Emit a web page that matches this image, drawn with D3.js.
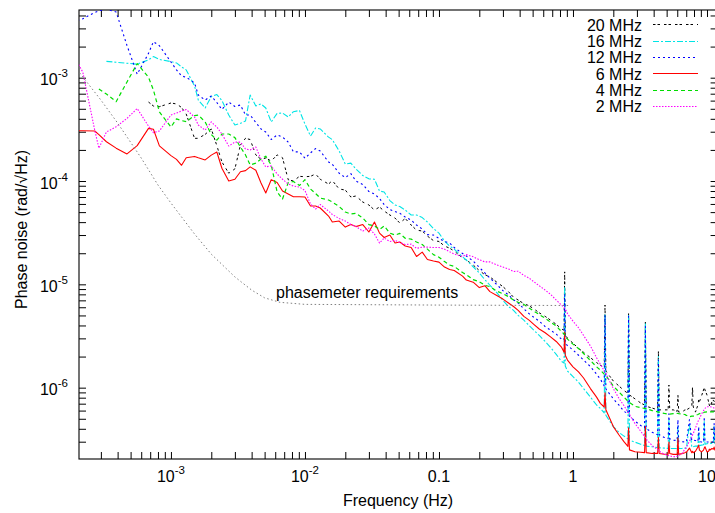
<!DOCTYPE html>
<html>
<head>
<meta charset="utf-8">
<script src="https://cdn.jsdelivr.net/npm/d3@7"></script>
<style>
  html, body { margin: 0; padding: 0; background: #fff; }
  svg { display: block; font-family: "Liberation Sans", Arial, Helvetica, sans-serif; }
</style>
</head>
<body>
<svg id="chart" width="715" height="513"></svg>
<script>
// Frequency grid (Hz) shared by all measured spectra
const freq = [
  2.0e-4, 2.2e-4, 2.7e-4, 2.9e-4, 3.3e-4, 3.9e-4, 4.7e-4, 5.6e-4, 6.8e-4, 7.4e-4, 8.2e-4,
  1.0e-3, 1.1e-3, 1.2e-3, 1.3e-3, 1.5e-3, 1.6e-3, 1.8e-3, 2.0e-3, 2.2e-3, 2.4e-3, 2.7e-3, 3.0e-3,
  3.3e-3, 3.6e-3, 3.9e-3, 4.3e-3, 4.7e-3, 5.1e-3, 5.6e-3, 6.2e-3, 6.8e-3, 7.5e-3, 8.2e-3, 9.1e-3,
  0.010, 0.011, 0.012, 0.013, 0.015, 0.016, 0.018, 0.020, 0.022, 0.024, 0.027, 0.030,
  0.033, 0.036, 0.039, 0.043, 0.047, 0.051, 0.056, 0.062, 0.068, 0.075, 0.082, 0.091,
  0.10, 0.11, 0.12, 0.13, 0.15, 0.16, 0.18, 0.20, 0.22, 0.24, 0.27, 0.30,
  0.33, 0.36, 0.39, 0.43, 0.47, 0.51, 0.56, 0.62, 0.68, 0.75, 0.82, 0.858, 0.867, 0.876, 0.91,
  1.0, 1.1, 1.2, 1.35, 1.5, 1.6, 1.71, 1.734, 1.76, 2.0, 2.2, 2.4, 2.57, 2.60, 2.64, 2.9, 3.2,
  3.42, 3.47, 3.52, 3.9, 4.28, 4.34, 4.40, 4.8, 5.13, 5.20, 5.27, 5.6, 5.99, 6.07, 6.15, 6.5,
  6.85, 6.94, 7.03, 7.4, 7.70, 7.80, 7.90, 8.2, 8.56, 8.67, 8.78, 9.1, 9.42, 9.54, 9.66, 10.0,
  10.27, 10.4, 10.53, 10.9, 11.15, 11.3, 11.45, 12.0
];

// Phase noise (rad/sqrt(Hz)) per beat-note frequency
const mhz20 = [
  null, null, null, null, null, null, null, null, 5.81e-4, 5.32e-4, 5.24e-4,
  5.69e-4, 5.57e-4, 5.15e-4, 4.45e-4, 2.59e-4, 2.59e-4, 2.83e-4, 3.19e-4, 2.20e-4, 1.53e-4, 1.19e-4, 1.31e-4,
  2.23e-4, 2.59e-4, 2.52e-4, 1.79e-4, 1.62e-4, 1.67e-4, 1.56e-4, 1.79e-4, 1.68e-4, 1.03e-4, 1.0e-4, 1.11e-4,
  1.10e-4, 1.11e-4, 1.17e-4, 1.04e-4, 9.35e-5, 1.01e-4, 8.37e-5, 8.18e-5, 7.0e-5, 7.16e-5, 6.26e-5, 5.86e-5,
  5.24e-5, 5.6e-5, 5.12e-5, 4.69e-5, 4.38e-5, 3.92e-5, 4.34e-5, 3.75e-5, 3.35e-5, 3.28e-5, 2.93e-5, 2.65e-5,
  2.6e-5, 2.35e-5, 2.24e-5, 2.1e-5, 1.8e-5, 1.72e-5, 1.54e-5, 1.36e-5, 1.24e-5, 1.18e-5, 1.05e-5, 9.5e-6,
  8.5e-6, 7.5e-6, 7.05e-6, 6.5e-6, 6.2e-6, 5.8e-6, 5.3e-6, 4.9e-6, 4.5e-6, 4.1e-6, 3.7e-6, 3.6e-6, 1.32e-5, 3.3e-6, 3.0e-6,
  2.7e-6, 2.4e-6, 2.2e-6, 1.95e-6, 1.75e-6, 1.65e-6, 1.58e-6, 6.3e-6, 1.45e-6, 1.16e-6, 1.04e-6, 9.4e-7, 8.8e-7, 5.2e-6, 8.5e-7, 7.8e-7, 7.1e-7,
  6.8e-7, 4.3e-6, 6.6e-7, 6.35e-7, 6.1e-7, 2.23e-6, 6.1e-7, 6.1e-7, 6.1e-7, 1.06e-6, 6.1e-7, 6.1e-7, 5.9e-7, 8.5e-7, 5.8e-7, 5.8e-7,
  6.1e-7, 6.1e-7, 6.1e-7, 6.35e-7, 6.5e-7, 1.02e-6, 6.5e-7, 5.8e-7, 6.8e-7, 7.6e-7, 7.3e-7, 8.3e-7, 9.5e-7, 1.02e-6, 9.5e-7, 8.5e-7,
  7.3e-7, 6.8e-7, 6.5e-7, 7.3e-7, 7.6e-7, 7.4e-7, 7.1e-7, 7.05e-7
];
const mhz16 = [
  null, null, null, null, 1.44e-3, 1.41e-3, 1.38e-3, 1.35e-3, 1.49e-3, 1.60e-3, 1.50e-3,
  1.43e-3, 1.39e-3, 1.27e-3, 1.19e-3, 8.31e-4, 6.08e-4, 5.09e-4, 6.55e-4, 6.87e-4, 6.01e-4, 4.35e-4, 3.48e-4,
  3.62e-4, 3.81e-4, 6.80e-4, 5.32e-4, 5.57e-4, 5.09e-4, 3.73e-4, 4.52e-4, 4.55e-4, 4.16e-4, 4.69e-4, 4.81e-4,
  3.56e-4, 2.72e-4, 3.26e-4, 3.19e-4, 2.66e-4, 2.52e-4, 1.95e-4, 1.46e-4, 1.49e-4, 1.31e-4, 1.13e-4, 1.05e-4,
  1.04e-4, 8.0e-5, 7.82e-5, 6.47e-5, 5.86e-5, 5.66e-5, 5.24e-5, 4.69e-5, 4.69e-5, 4.43e-5, 4.01e-5, 3.47e-5,
  3.13e-5, 2.62e-5, 2.35e-5, 2.19e-5, 1.84e-5, 1.72e-5, 1.48e-5, 1.29e-5, 1.11e-5, 9.8e-6, 8.3e-6, 7.0e-6,
  6.1e-6, 5.6e-6, 5.0e-6, 4.5e-6, 4.0e-6, 3.6e-6, 3.2e-6, 2.8e-6, 2.45e-6, 2.1e-6, 1.8e-6, 1.73e-6, 9.5e-6, 1.62e-6, 1.45e-6,
  1.28e-6, 1.13e-6, 9.8e-7, 8.1e-7, 6.8e-7, 6.3e-7, 5.7e-7, 5.2e-6, 5.4e-7, 4.2e-7, 3.7e-7, 3.4e-7, 3.2e-7, 5.0e-6, 3.1e-7, 2.97e-7, 2.84e-7,
  2.75e-7, 4.2e-6, 2.72e-7, 2.68e-7, 2.63e-7, 2.0e-6, 2.62e-7, 2.6e-7, 2.58e-7, 4.9e-7, 2.58e-7, 2.58e-7, 2.58e-7, 4.2e-7, 2.58e-7, 2.58e-7,
  2.6e-7, 2.6e-7, 2.6e-7, 4.5e-7, 2.66e-7, 2.66e-7, 2.68e-7, 2.72e-7, 2.72e-7, 3.9e-7, 2.75e-7, 2.78e-7, 2.8e-7, 4.7e-7, 2.84e-7, 2.87e-7,
  2.88e-7, 2.88e-7, 2.88e-7, 2.88e-7, 2.88e-7, 4.2e-7, 2.88e-7, 2.88e-7
];
const mhz12 = [
  3.58e-3, 3.72e-3, 4.28e-3, 4.44e-3, 4.6e-3, 4.32e-3, 2.05e-3, 1.08e-3, 1.72e-3, 2.23e-3, 2.04e-3,
  1.42e-3, 1.19e-3, 1.04e-3, 1.01e-3, 8.89e-4, 6.80e-4, 6.08e-4, 6.65e-4, 5.75e-4, 4.92e-4, 5.81e-4, 5.26e-4,
  5.44e-4, 4.35e-4, 4.35e-4, 3.68e-4, 3.19e-4, 2.98e-4, 2.52e-4, 2.79e-4, 2.66e-4, 2.38e-4, 1.92e-4, 1.91e-4,
  1.66e-4, 1.87e-4, 2.06e-4, 1.95e-4, 1.53e-4, 1.45e-4, 1.19e-4, 1.08e-4, 1.18e-4, 1.0e-4, 9.25e-5, 7.91e-5,
  7.48e-5, 6.77e-5, 5.92e-5, 5.3e-5, 5.07e-5, 4.87e-5, 4.48e-5, 4.19e-5, 3.75e-5, 3.43e-5, 3.03e-5, 3.0e-5,
  2.79e-5, 2.6e-5, 2.51e-5, 2.27e-5, 1.99e-5, 1.88e-5, 1.68e-5, 1.46e-5, 1.29e-5, 1.15e-5, 9.96e-6, 8.7e-6,
  7.9e-6, 7.1e-6, 6.6e-6, 5.8e-6, 5.2e-6, 4.8e-6, 4.4e-6, 3.9e-6, 3.6e-6, 3.3e-6, 2.95e-6, 2.89e-6, 7.9e-6, 2.7e-6, 2.55e-6,
  2.32e-6, 2.06e-6, 1.85e-6, 1.6e-6, 1.35e-6, 1.21e-6, 1.04e-6, 5.0e-6, 9.7e-7, 7.8e-7, 6.8e-7, 5.9e-7, 5.6e-7, 4.9e-6, 5.3e-7, 4.75e-7, 4.3e-7,
  4.1e-7, 3.9e-6, 4.0e-7, 3.7e-7, 3.5e-7, 1.85e-6, 3.5e-7, 3.3e-7, 3.2e-7, 5.6e-7, 3.2e-7, 3.1e-7, 3.08e-7, 4.9e-7, 3.0e-7, 3.0e-7,
  2.98e-7, 2.98e-7, 3.0e-7, 4.9e-7, 3.08e-7, 3.1e-7, 3.1e-7, 3.08e-7, 3.0e-7, 4.2e-7, 3.0e-7, 2.98e-7, 2.98e-7, 5.2e-7, 2.98e-7, 2.98e-7,
  2.98e-7, 2.98e-7, 2.98e-7, 2.98e-7, 2.98e-7, 4.5e-7, 2.98e-7, 2.98e-7
];
const mhz6 = [
  3.07e-4, 3.07e-4, 3.05e-4, 2.81e-4, 2.40e-4, 2.08e-4, 1.83e-4, 2.20e-4, 3.23e-4, 3.17e-4, 2.19e-4,
  1.76e-4, 1.62e-4, 1.42e-4, 1.68e-4, 1.73e-4, 1.68e-4, 1.60e-4, 1.78e-4, 1.91e-4, 1.33e-4, 1.00e-4, 1.04e-4,
  1.23e-4, 1.26e-4, 1.37e-4, 1.27e-4, 9.56e-5, 7.65e-5, 1.03e-4, 9.67e-5, 8.0e-5, 7.48e-5, 7.05e-5, 7.05e-5,
  7.0e-5, 5.73e-5, 5.73e-5, 5.48e-5, 4.58e-5, 4.01e-5, 4.10e-5, 3.58e-5, 3.79e-5, 3.62e-5, 3.79e-5, 3.21e-5,
  4.01e-5, 3.13e-5, 2.84e-5, 3.0e-5, 2.51e-5, 2.57e-5, 2.35e-5, 2.27e-5, 1.86e-5, 2.05e-5, 1.74e-5, 1.68e-5,
  1.64e-5, 1.47e-5, 1.39e-5, 1.36e-5, 1.20e-5, 1.10e-5, 1.05e-5, 9.3e-6, 9.7e-6, 8.5e-6, 7.8e-6, 7.2e-6,
  6.6e-6, 6.1e-6, 5.6e-6, 4.9e-6, 4.5e-6, 4.1e-6, 3.7e-6, 3.4e-6, 3.1e-6, 2.8e-6, 2.47e-6, 2.2e-6, 3.45e-6, 2.06e-6, 1.85e-6,
  1.59e-6, 1.42e-6, 1.24e-6, 9.8e-7, 8.1e-7, 7.05e-7, 6.5e-7, 8.9e-7, 6.1e-7, 4.2e-7, 3.5e-7, 3.0e-7, 2.7e-7, 4.1e-7, 2.5e-7, 2.4e-7, 2.37e-7,
  2.35e-7, 4.2e-7, 2.35e-7, 2.31e-7, 2.31e-7, 3.3e-7, 2.31e-7, 2.27e-7, 2.27e-7, 2.97e-7, 2.31e-7, 2.26e-7, 2.26e-7, 3.25e-7, 2.26e-7, 2.3e-7,
  2.35e-7, 2.38e-7, 2.38e-7, 2.6e-7, 2.35e-7, 2.42e-7, 2.35e-7, 2.42e-7, 2.66e-7, 2.78e-7, 2.49e-7, 2.39e-7, 2.49e-7, 2.6e-7, 2.68e-7, 2.39e-7,
  2.42e-7, 2.54e-7, 2.49e-7, 2.58e-7, 2.54e-7, 2.66e-7, 2.49e-7, 2.49e-7
];
const mhz4 = [
  null, null, null, 7.77e-4, 6.95e-4, 5.86e-4, 9.09e-4, 1.37e-3, 1.01e-3, 7.60e-4, 4.66e-4,
  3.33e-4, 3.99e-4, 3.85e-4, 3.75e-4, 4.30e-4, 4.35e-4, 3.73e-4, 2.82e-4, 2.49e-4, 2.85e-4, 2.85e-4, 2.63e-4,
  2.13e-4, 1.79e-4, 1.43e-4, 1.49e-4, 1.63e-4, 1.74e-4, 1.43e-4, 7.82e-5, 6.69e-5, 9.67e-5, 9.89e-5, 9.05e-5,
  1.03e-4, 8.37e-5, 7.57e-5, 6.84e-5, 6.55e-5, 6.26e-5, 5.66e-5, 5.01e-5, 4.79e-5, 4.87e-5, 4.38e-5, 3.79e-5,
  3.67e-5, 3.39e-5, 3.67e-5, 3.13e-5, 3.0e-5, 3.11e-5, 2.79e-5, 2.74e-5, 2.57e-5, 2.43e-5, 2.19e-5, 1.94e-5,
  1.83e-5, 1.66e-5, 1.54e-5, 1.49e-5, 1.30e-5, 1.24e-5, 1.11e-5, 1.06e-5, 9.8e-6, 9.5e-6, 8.6e-6, 8.1e-6,
  7.6e-6, 7.05e-6, 6.7e-6, 6.4e-6, 5.9e-6, 5.5e-6, 5.1e-6, 4.7e-6, 4.3e-6, 3.95e-6, 3.5e-6, 3.3e-6, 3.3e-6, 3.1e-6, 2.95e-6,
  2.64e-6, 2.39e-6, 2.14e-6, 1.83e-6, 1.59e-6, 1.48e-6, 1.35e-6, 1.33e-6, 1.31e-6, 1.04e-6, 9.1e-7, 8.1e-7, 7.4e-7, 7.3e-7, 7.2e-7, 6.6e-7, 6.4e-7,
  6.3e-7, 6.3e-7, 6.25e-7, 6.0e-7, 5.84e-7, 5.8e-7, 5.8e-7, 5.63e-7, 5.55e-7, 5.55e-7, 5.55e-7, 5.6e-7, 5.63e-7, 5.62e-7, 5.6e-7, 5.55e-7,
  5.5e-7, 5.43e-7, 5.4e-7, 5.23e-7, 5.3e-7, 5.3e-7, 5.3e-7, 5.43e-7, 5.5e-7, 5.55e-7, 5.6e-7, 5.68e-7, 5.72e-7, 5.8e-7, 5.8e-7, 5.84e-7,
  5.84e-7, 5.84e-7, 5.84e-7, 5.84e-7, 5.84e-7, 5.8e-7, 5.76e-7, 5.72e-7
];
const mhz2 = [
  1.42e-3, 1.13e-3, 3.1e-4, 2.08e-4, 2.98e-4, 3.35e-4, 4.04e-4, 5.03e-4, 3.40e-4, 2.94e-4, 3.05e-4,
  4.35e-4, 4.55e-4, 4.76e-4, 4.92e-4, 4.16e-4, 3.48e-4, 3.11e-4, 3.73e-4, 3.33e-4, 2.85e-4, 2.18e-4, 2.38e-4,
  2.38e-4, 2.04e-4, 2.00e-4, 2.13e-4, 1.63e-4, 1.37e-4, 1.40e-4, 1.17e-4, 1.04e-4, 9.35e-5, 8.95e-5, 8.75e-5,
  8.09e-5, 5.99e-5, 5.36e-5, 5.92e-5, 5.12e-5, 4.74e-5, 4.34e-5, 4.10e-5, 3.79e-5, 3.63e-5, 3.28e-5, 3.51e-5,
  3.07e-5, 2.51e-5, 2.81e-5, 2.6e-5, 2.66e-5, 2.54e-5, 2.43e-5, 2.45e-5, 2.23e-5, 2.29e-5, 2.29e-5, 2.27e-5,
  2.27e-5, 2.19e-5, 2.07e-5, 1.96e-5, 1.86e-5, 1.94e-5, 1.85e-5, 1.73e-5, 1.65e-5, 1.65e-5, 1.54e-5, 1.47e-5,
  1.41e-5, 1.33e-5, 1.34e-5, 1.22e-5, 1.15e-5, 1.06e-5, 9.7e-6, 8.8e-6, 8.0e-6, 7.05e-6, 6.3e-6, 5.96e-6, 5.9e-6, 5.8e-6, 5.2e-6,
  4.4e-6, 3.8e-6, 3.2e-6, 2.53e-6, 1.95e-6, 1.69e-6, 1.46e-6, 1.42e-6, 1.37e-6, 9.8e-7, 7.9e-7, 6.7e-7, 5.8e-7, 5.7e-7, 5.5e-7, 4.5e-7, 3.8e-7,
  3.36e-7, 3.3e-7, 3.17e-7, 2.75e-7, 2.52e-7, 2.49e-7, 2.43e-7, 2.27e-7, 2.21e-7, 2.2e-7, 2.19e-7, 2.14e-7, 2.17e-7, 2.2e-7, 2.21e-7, 2.3e-7,
  2.54e-7, 2.6e-7, 2.66e-7, 3.04e-7, 3.32e-7, 3.48e-7, 3.61e-7, 4.06e-7, 4.7e-7, 4.86e-7, 5.0e-7, 5.55e-7, 6.0e-7, 6.1e-7, 6.3e-7, 6.54e-7,
  6.54e-7, 6.54e-7, 6.54e-7, 6.5e-7, 6.4e-7, 6.35e-7, 6.3e-7, 6.2e-7
];

// Phasemeter requirement curve
const reqFreq  = [2.0e-4, 3.0e-4, 4.0e-4, 6.0e-4, 8.0e-4, 1.0e-3, 1.5e-3, 2.0e-3, 3.0e-3, 4.0e-3, 5.0e-3, 6.5e-3, 1.0e-2, 0.1, 0.93];
const reqValue = [1.19e-3, 6.08e-4, 3.64e-4, 1.67e-4, 9.15e-5, 6.12e-5, 3.07e-5, 1.96e-5, 1.18e-5, 8.8e-6, 7.4e-6, 6.7e-6, 6.4e-6, 6.3e-6, 6.24e-6];

const seriesNames = ["20 MHz", "16 MHz", "12 MHz", "6 MHz", "4 MHz", "2 MHz"];

// Labelled tick values: [value, mantissa text, exponent text]
const xTickLabels = [[1e-3, "10", "-3"], [1e-2, "10", "-2"], [0.1, "0.1", ""], [1, "1", ""], [10, "10", ""]];
const yTickLabels = [[1e-3, "10", "-3"], [1e-4, "10", "-4"], [1e-5, "10", "-5"], [1e-6, "10", "-6"]];

// ---------------------------------------------------------------------------
const svg = d3.select("#chart");
const frame = { left: 79, top: 10, right: 717.6, bottom: 459 };

const x = d3.scaleLog().domain([2.06e-4, 12]).range([frame.left, frame.right]);
const y = d3.scaleLog().domain([2.04e-7, 4.52e-3]).range([frame.bottom, frame.top]);

svg.append("rect").attr("width", 715).attr("height", 513).attr("fill", "#fff");

svg.append("defs").append("clipPath").attr("id", "plotClip")
  .append("rect")
  .attr("x", frame.left).attr("y", frame.top)
  .attr("width", frame.right - frame.left).attr("height", frame.bottom - frame.top);

// log ticks (1..9 per decade) inside a domain
function logTicks(scale) {
  const [lo, hi] = scale.domain();
  const out = [];
  for (let e = Math.floor(Math.log10(lo)); e <= Math.ceil(Math.log10(hi)); e++) {
    for (let k = 1; k < 10; k++) {
      const v = +(k * Math.pow(10, e)).toPrecision(6);
      if (v >= lo && v <= hi) out.push(v);
    }
  }
  return out;
}
const xt = logTicks(x), yt = logTicks(y);
const TICK = 7;

function styleAxis(g) {
  g.select(".domain").remove();
  g.selectAll(".tick line").attr("stroke", "#000").attr("stroke-width", 1);
  g.selectAll(".tick text").remove();
}

svg.append("g").attr("transform", `translate(0,${frame.bottom})`)
  .call(d3.axisBottom(x).tickValues(xt).tickSizeInner(-TICK).tickSizeOuter(0).tickFormat(() => ""))
  .call(styleAxis);
svg.append("g").attr("transform", `translate(0,${frame.top})`)
  .call(d3.axisTop(x).tickValues(xt).tickSizeInner(-TICK).tickSizeOuter(0).tickFormat(() => ""))
  .call(styleAxis);
svg.append("g").attr("transform", `translate(${frame.left},0)`)
  .call(d3.axisLeft(y).tickValues(yt).tickSizeInner(-TICK).tickSizeOuter(0).tickFormat(() => ""))
  .call(styleAxis);
svg.append("g").attr("transform", `translate(${frame.right},0)`)
  .call(d3.axisRight(y).tickValues(yt).tickSizeInner(-TICK).tickSizeOuter(0).tickFormat(() => ""))
  .call(styleAxis);

// plot border
svg.append("rect")
  .attr("x", frame.left).attr("y", frame.top)
  .attr("width", frame.right - frame.left).attr("height", frame.bottom - frame.top)
  .attr("fill", "none").attr("stroke", "#000").attr("stroke-width", 1.1);

// tick labels with superscript exponents
function powerLabel(sel, main, exp) {
  sel.append("tspan").text(main);
  if (exp) sel.append("tspan").attr("dy", -8).attr("font-size", 11.5).text(exp);
}
xTickLabels.forEach(([v, m, e]) => {
  const t = svg.append("text").attr("x", x(v)).attr("y", 482)
    .attr("text-anchor", "middle").attr("font-size", 16).attr("fill", "#000");
  powerLabel(t, m, e);
});
yTickLabels.forEach(([v, m, e]) => {
  const t = svg.append("text").attr("x", 68).attr("y", y(v) + 7.5)
    .attr("text-anchor", "end").attr("font-size", 16).attr("fill", "#000");
  powerLabel(t, m, e);
});

// axis titles
svg.append("text").attr("x", 398).attr("y", 506)
  .attr("text-anchor", "middle").attr("font-size", 16).attr("fill", "#000")
  .text("Frequency (Hz)");
svg.append("text").attr("transform", "translate(27,229.5) rotate(-90)")
  .attr("text-anchor", "middle").attr("font-size", 16).attr("fill", "#000")
  .text("Phase noise (rad/\u221AHz)");

// data curves
const series = [
  { name: seriesNames[0], values: mhz20, color: "#000000", dash: "2.5,2,2.5,4", width: 1 },
  { name: seriesNames[1], values: mhz16, color: "#00e5e5", dash: "6,2,2,2", width: 1.1 },
  { name: seriesNames[2], values: mhz12, color: "#0000ff", dash: "2,3", width: 1.1 },
  { name: seriesNames[3], values: mhz6,  color: "#ff0000", dash: null, width: 1.1 },
  { name: seriesNames[4], values: mhz4,  color: "#00dd00", dash: "4,3", width: 1.2 },
  { name: seriesNames[5], values: mhz2,  color: "#ff00ff", dash: "1.5,1.5", width: 1.1 }
];

const line = d3.line()
  .defined(d => d[1] != null)
  .x(d => x(d[0]))
  .y(d => y(d[1]));

const plotArea = svg.append("g").attr("clip-path", "url(#plotClip)");

series.forEach(s => {
  const pts = freq.map((f, i) => [f, s.values[i]]);
  plotArea.append("path")
    .attr("d", line(pts))
    .attr("fill", "none")
    .attr("stroke", s.color)
    .attr("stroke-width", s.width)
    .attr("stroke-linejoin", "round")
    .attr("stroke-dasharray", s.dash);
});

// requirement curve
plotArea.append("path")
  .attr("d", line(reqFreq.map((f, i) => [f, reqValue[i]])))
  .attr("fill", "none")
  .attr("stroke", "#808080")
  .attr("stroke-width", 1)
  .attr("stroke-dasharray", "1.5,2.5");

svg.append("text").attr("x", 276).attr("y", 298)
  .attr("font-size", 16).attr("fill", "#000")
  .text("phasemeter requirements");

// legend
const legend = svg.append("g");
series.forEach((s, i) => {
  const by = 30.8 + i * 16.3;
  const ly = Math.round(by - 6.5) + 0.5;
  legend.append("text").attr("x", 642).attr("y", by)
    .attr("text-anchor", "end").attr("font-size", 16).attr("fill", "#000")
    .text(s.name);
  legend.append("line")
    .attr("x1", 653).attr("x2", 698)
    .attr("y1", ly).attr("y2", ly)
    .attr("stroke", s.color)
    .attr("stroke-width", s.width)
    .attr("stroke-dasharray", s.dash);
});
</script>
</body>
</html>
